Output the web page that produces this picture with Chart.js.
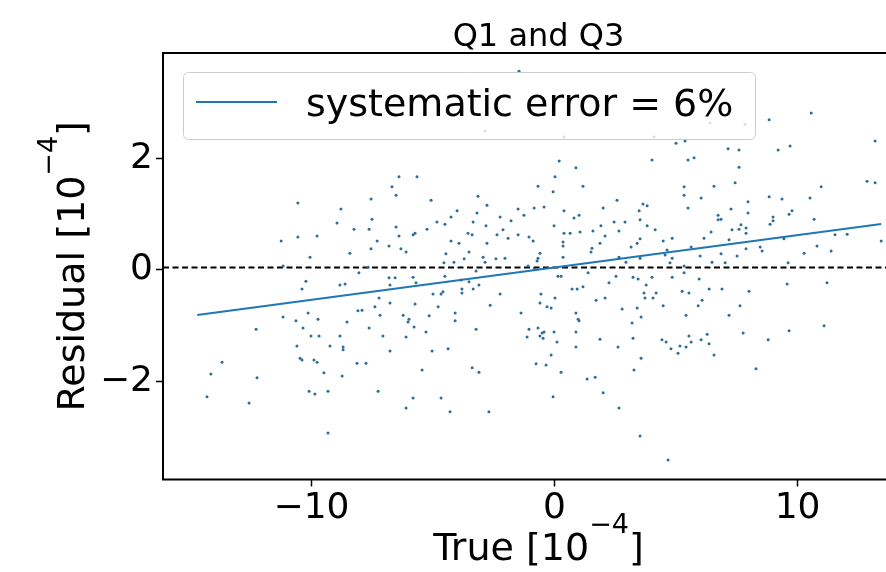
<!DOCTYPE html>
<html>
<head>
<meta charset="utf-8">
<script src="https://cdn.jsdelivr.net/npm/chart.js@4.4.1/dist/chart.umd.min.js"></script>
<style>
  html, body { margin: 0; padding: 0; background: #fff; overflow: hidden; width: 886px; height: 572px; }
  #wrap { width: 960px; height: 572px; }
</style>
</head>
<body>
<div id="wrap"><canvas id="residChart" width="960" height="572"></canvas></div>
<script>
// Residual scatter, values in units of 1e-4
var residualX = [
  -6.40,-6.69,-6.52,-10.56,-7.55,-8.79,-8.95,-7.51,-8.25,-7.63,-6.52,-11.25,-10.56,-9.77,-7.30,-6.40,-8.42,-7.55,-6.81,-6.32,-6.11,-10.06,
  0.19,0.88,4.01,-5.66,0.02,-0.68,1.17,-0.06,-3.15,-5.08,-2.78,2.57,3.64,3.81,-1.50,-0.84,-0.43,2.00,-4.01,0.39,3.48,-4.26,-3.19,-2.24,
  -1.26,0.80,1.01,-4.84,-4.51,-3.35,-1.79,3.52,-5.25,-2.82,-0.02,-5.74,-5.82,-3.56,-3.39,-2.37,-2.12,-1.91,-1.50,-1.05,-0.88,0.39,0.64,
  1.05,1.58,1.91,2.45,2.90,2.65,3.81,4.14,2.08,-4.26,-3.93,-2.78,0.35,0.35,1.87,3.52,3.40,-4.47,-3.52,1.54,1.50,-0.60,-0.68,0.35,3.15,-2.94,
  10.56,8.83,13.19,5.00,5.37,7.14,7.59,9.20,9.69,5.49,5.74,7.59,5.33,6.56,7.43,10.97,12.86,13.19,5.33,6.03,8.83,9.36,10.51,7.96,5.49,
  7.26,7.96,6.73,6.73,6.85,8.99,8.99,9.65,9.77,10.68,6.44,7.30,7.59,7.67,7.88,7.88,8.87,4.47,4.84,6.15,7.18,9.44,11.54,12.04,13.44,
  4.63,4.55,4.84,5.62,5.99,6.85,7.51,7.88,8.46,8.54,10.27,10.80,11.38,
  -11.17,-8.05,-7.67,-10.23,-10.39,-8.83,-8.62,-6.81,-6.56,-6.77,-7.22,-6.77,-8.09,-7.92,-7.39,-7.18,-6.23,-6.03,-11.17,-10.64,-10.14,
  -9.73,-8.54,-12.28,-10.35,-7.63,-10.02,-9.69,-8.83,-7.06,-6.11,-10.60,-9.24,-8.70,-8.70,-6.77,-10.47,-10.39,-9.90,-9.77,-13.68,-8.13,
  -7.76,-14.14,-12.24,-9.49,-8.74,-14.30,-12.57,-10.10,-9.86,-9.32,-7.26,-6.11,-9.32,
  -2.86,-3.72,-2.41,-2.04,-4.14,-4.55,-0.72,2.65,2.94,3.52,-1.09,-0.84,-3.23,-5.82,-5.70,-4.51,0.14,0.27,1.38,2.53,3.23,3.44,4.01,
  -3.85,-3.52,-3.11,-3.35,-3.81,-3.81,2.24,3.77,-5.00,-4.67,-4.59,-2.24,-0.56,0.72,0.93,1.17,3.68,4.18,3.72,4.05,0.02,1.71,2.08,
  -5.74,-4.79,-2.65,-0.60,-0.31,-0.14,2.78,3.40,-5.99,-5.78,-5.16,-4.09,-4.09,-1.38,0.88,0.97,1.01,3.56,3.19,-5.29,-3.23,-1.05,
  -1.13,-0.68,-0.51,-0.43,-0.60,-0.47,-0.02,0.10,0.88,1.87,3.23,0.88,2.61,-5.04,-4.38,-0.14,3.56,-0.76,-0.35,-5.45,-3.39,-3.11,
  0.27,3.27,1.34,1.67,2.00,-5.82,-4.67,-0.06,-4.30,-2.70,2.65,3.52,
  4.75,6.48,7.02,5.33,5.33,9.61,4.84,5.95,9.57,11.21,5.25,5.53,6.36,6.89,8.00,4.47,6.07,5.91,7.63,5.41,7.18,11.09,9.65,7.76,8.79,
  4.42,4.59,5.53,5.62,6.03,6.28,6.36,4.79,5.16,5.41,5.08,6.56,8.29,4.67,
  -1.46,0.39,-2.86,4.09,6.40,7.84
];
var residualY = [
  1.67,1.49,1.34,1.20,1.27,1.09,0.84,0.91,0.73,0.73,0.77,0.52,0.59,0.61,0.52,0.61,0.30,0.38,0.43,0.38,0.32,0.23,
  1.95,1.83,1.97,1.67,1.67,1.50,1.50,1.40,1.32,1.25,1.16,1.25,1.18,1.15,1.09,1.11,1.13,1.11,1.06,1.06,1.06,0.95,1.02,0.95,
  0.98,0.93,0.98,0.86,0.82,0.86,0.88,0.90,0.73,0.79,0.79,0.66,0.63,0.66,0.63,0.63,0.72,0.57,0.63,0.59,0.52,0.66,0.66,
  0.68,0.70,0.79,0.86,0.86,0.70,0.79,0.72,0.61,0.52,0.48,0.48,0.50,0.43,0.48,0.56,0.48,0.29,0.32,0.39,0.32,0.30,0.21,0.23,0.41,0.23,
  2.81,2.69,2.31,2.27,2.31,2.17,2.15,2.15,2.22,1.97,2.01,1.84,1.49,1.50,1.56,1.49,1.59,1.56,1.34,1.29,1.31,1.27,1.29,1.22,1.11,
  1.09,1.02,0.98,0.90,0.91,0.95,0.88,1.00,1.06,0.91,0.68,0.72,0.73,0.81,0.75,0.66,0.82,0.52,0.57,0.57,0.54,0.56,0.63,0.64,0.52,
  0.36,0.27,0.21,0.41,0.25,0.29,0.25,0.38,0.41,0.34,0.30,0.43,0.34,
  0.07,-0.05,0.05,-0.20,-0.34,-0.27,-0.25,-0.14,-0.14,-0.27,-0.50,-0.59,-0.73,-0.72,-0.66,-0.81,-0.81,-0.93,-0.84,-0.91,-0.77,
  -0.88,-0.93,-1.06,-1.04,-1.04,-1.18,-1.18,-1.18,-1.18,-1.20,-1.36,-1.36,-1.38,-1.43,-1.45,-1.58,-1.61,-1.61,-1.65,-1.65,-1.67,
  -1.67,-1.86,-1.93,-1.84,-1.90,-2.27,-2.38,-2.17,-2.22,-2.17,-2.17,-2.47,-2.92,
  0.14,0.20,0.20,0.21,0.14,0.13,0.16,0.23,0.14,0.21,0.07,0.02,-0.02,-0.13,-0.23,-0.11,-0.11,-0.11,-0.05,-0.11,-0.13,-0.16,-0.13,
  -0.18,-0.21,-0.27,-0.34,-0.34,-0.41,-0.23,-0.27,-0.43,-0.43,-0.39,-0.43,-0.43,-0.34,-0.34,-0.30,-0.41,-0.41,-0.50,-0.50,-0.50,-0.54,-0.50,
  -0.61,-0.66,-0.63,-0.59,-0.66,-0.68,-0.70,-0.68,-0.88,-1.02,-0.82,-0.77,-0.91,-0.77,-0.77,-0.88,-0.91,-0.84,-0.95,-1.11,-1.06,-1.06,
  -1.20,-1.04,-1.13,-1.11,-1.18,-1.22,-1.11,-1.29,-1.11,-1.24,-1.22,-1.38,-1.38,-1.45,-1.41,-1.52,-1.58,-1.68,-1.70,-1.79,-1.75,-1.83,
  -1.83,-1.79,-1.95,-1.92,-2.20,-2.29,-2.29,-2.27,-2.54,-2.54,-2.47,-2.97,
  0.13,0.14,0.13,0.07,-0.05,0.13,-0.13,-0.16,-0.25,-0.23,-0.38,-0.41,-0.34,-0.34,-0.38,-0.64,-0.54,-0.64,-0.64,-0.81,-0.81,-1.00,-1.09,-1.13,-1.25,
  -1.25,-1.29,-1.18,-1.29,-1.25,-1.15,-1.32,-1.41,-1.36,-1.38,-1.49,-1.52,-1.77,-3.40,
  3.56,2.38,2.49,2.38,2.63,2.61
];

// fitted line (systematic error) and the reference line
var fitX = [-14.7, 13.44];
var fitY = [-0.806, 0.824];
var refX = [-16.11, 14.79];
var refY = [0.045, 0.045];

var xTickVals = [-10, 0, 10];
var yTickVals = [-2, 0, 2];
var xRange = [-16.11, 14.79];
var yRange = [-3.751, 3.885];

var titleText = "Q1 and Q3";
var legendText = "systematic error = 6%";
// axis labels: [text before exponent, exponent, text after]
var xLabelParts = ["True [10", "\u22124", "]"];
var yLabelParts = ["Residual [10", "\u22124", "]"];

function toPoints(xs, ys) {
  return xs.map(function (x, i) { return { x: x, y: ys[i] }; });
}

function fmtTick(v) {
  return v < 0 ? "\u2212" + Math.abs(v) : String(v);
}

// draws "base^exp tail" centred on (0,0), baseline at 0
function drawSupLabel(ctx, parts, size) {
  var big = size + "px 'DejaVu Sans'";
  var small = Math.round(size * 0.7) + "px 'DejaVu Sans'";
  ctx.font = big;
  var w1 = ctx.measureText(parts[0]).width;
  var w3 = ctx.measureText(parts[2]).width;
  ctx.font = small;
  var w2 = ctx.measureText(parts[1]).width;
  var x = -(w1 + w2 + w3) / 2;
  ctx.textAlign = "left";
  ctx.textBaseline = "alphabetic";
  ctx.font = big;
  ctx.fillText(parts[0], x, 0);
  ctx.font = small;
  ctx.fillText(parts[1], x + w1, -size * 0.72);
  ctx.font = big;
  ctx.fillText(parts[2], x + w1 + w2, 0);
}

// frame, legend box, title and axis labels
var frameAndLegend = {
  id: "frameAndLegend",
  afterDatasetsDraw: function (chart) {
    var ctx = chart.ctx;
    var a = chart.chartArea;
    ctx.save();
    ctx.strokeStyle = "#000";
    ctx.lineWidth = 2;
    ctx.strokeRect(a.left, a.top, a.right - a.left, a.bottom - a.top);

    // legend
    ctx.beginPath();
    ctx.roundRect(183.5, 72.5, 572, 67, 5);
    ctx.fillStyle = "rgba(255,255,255,0.8)";
    ctx.fill();
    ctx.strokeStyle = "#cccccc";
    ctx.lineWidth = 1;
    ctx.stroke();

    ctx.beginPath();
    ctx.moveTo(196, 102);
    ctx.lineTo(277, 102);
    ctx.strokeStyle = "#1f77b4";
    ctx.lineWidth = 2;
    ctx.stroke();

    ctx.fillStyle = "#000";
    ctx.font = "38px 'DejaVu Sans'";
    ctx.textAlign = "left";
    ctx.textBaseline = "alphabetic";
    ctx.fillText(chart.data.datasets[1].label, 306, 116);

    // title
    ctx.font = "32px 'DejaVu Sans'";
    ctx.textAlign = "center";
    ctx.fillText(titleText, (a.left + a.right) / 2, 46);

    // x label
    ctx.save();
    ctx.translate((a.left + a.right) / 2, 560);
    drawSupLabel(ctx, xLabelParts, 38);
    ctx.restore();

    // y label
    ctx.save();
    ctx.translate(84, (a.top + a.bottom) / 2);
    ctx.rotate(-Math.PI / 2);
    drawSupLabel(ctx, yLabelParts, 38);
    ctx.restore();

    ctx.restore();
  }
};

new Chart(document.getElementById("residChart"), {
  type: "scatter",
  data: {
    datasets: [
      {
        label: "data",
        data: toPoints(residualX, residualY),
        backgroundColor: "#2c6d99",
        borderWidth: 0,
        pointRadius: 1.5
      },
      {
        label: legendText,
        data: toPoints(fitX, fitY),
        showLine: true,
        borderColor: "#1f77b4",
        borderWidth: 2,
        pointRadius: 0
      },
      {
        label: "reference",
        data: toPoints(refX, refY),
        showLine: true,
        borderColor: "#000",
        borderWidth: 2,
        borderDash: [6, 3.5],
        pointRadius: 0
      }
    ]
  },
  options: {
    responsive: false,
    animation: false,
    layout: { padding: { top: 53, right: 46, left: 0, bottom: 0 } },
    plugins: {
      legend: { display: false },
      tooltip: { enabled: false },
      title: { display: false }
    },
    scales: {
      x: {
        type: "linear",
        min: xRange[0],
        max: xRange[1],
        afterBuildTicks: function (s) { s.ticks = xTickVals.map(function (v) { return { value: v }; }); },
        afterFit: function (s) { s.height = 92.5; },
        border: { display: false },
        grid: { drawOnChartArea: false, drawTicks: true, tickLength: 7, tickColor: "#000", tickWidth: 1.5 },
        ticks: {
          color: "#000",
          padding: 1,
          maxRotation: 0,
          font: { family: "DejaVu Sans", size: 36 },
          callback: fmtTick
        }
      },
      y: {
        type: "linear",
        min: yRange[0],
        max: yRange[1],
        afterBuildTicks: function (s) { s.ticks = yTickVals.map(function (v) { return { value: v }; }); },
        afterFit: function (s) { s.width = 163; },
        border: { display: false },
        grid: { drawOnChartArea: false, drawTicks: true, tickLength: 7, tickColor: "#000", tickWidth: 1.5 },
        ticks: {
          color: "#000",
          padding: 3,
          font: { family: "DejaVu Sans", size: 36 },
          callback: fmtTick
        }
      }
    }
  },
  plugins: [frameAndLegend]
});
</script>
</body>
</html>
